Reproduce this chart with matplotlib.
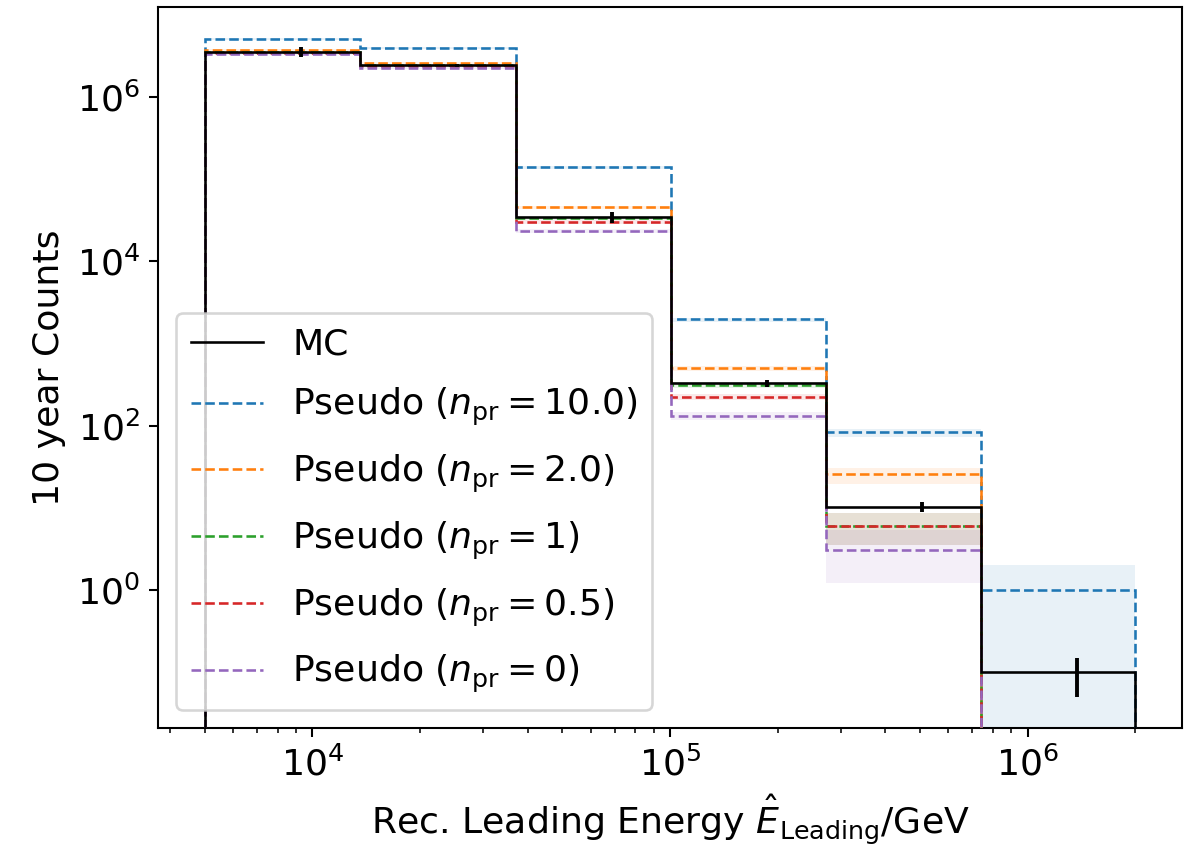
import numpy as np
import matplotlib
matplotlib.use('Agg')
import matplotlib.pyplot as plt
from matplotlib.ticker import NullLocator

# log-spaced energy bins, 5 TeV .. 2 PeV
edges = np.array([5.0e3, 1.36e4, 3.70e4, 1.006e5, 2.73e5, 7.42e5, 2.0e6])

mc = np.array([3.54e6, 2.44e6, 3.48e4, 327, 10.3, 0.1])
mc_err = np.array([5.0e5, 1.0e5, 5.5e3, 32, 1.5, 0.05])

labels = [r'Pseudo ($n_{\rm pr} = 10.0$)', r'Pseudo ($n_{\rm pr} = 2.0$)',
          r'Pseudo ($n_{\rm pr} = 1$)', r'Pseudo ($n_{\rm pr} = 0.5$)',
          r'Pseudo ($n_{\rm pr} = 0$)']
colors = ['C0', 'C1', 'C2', 'C3', 'C4']

pseudo_10 = [5.05e6, 3.89e6, 1.39e5, 1.96e3, 83, 1.0]
pseudo_2 = [3.71e6, 2.55e6, 4.53e4, 498, 25.8, 0]
pseudo_1 = [3.54e6, 2.44e6, 3.40e4, 311, 6.0, 0]
pseudo_05 = [3.41e6, 2.37e6, 3.02e4, 225, 6.0, 0]
pseudo_0 = [3.32e6, 2.24e6, 2.33e4, 132, 3.07, 0]

# uncertainty bands of the pseudo histograms
lo_10 = [4.9e6, 3.8e6, 1.34e5, 1.85e3, 72, 0]
hi_10 = [5.2e6, 4.0e6, 1.44e5, 2.07e3, 90, 2.0]
lo_2 = [3.6e6, 2.48e6, 4.3e4, 460, 19.5, 0]
hi_2 = [3.82e6, 2.62e6, 4.75e4, 535, 30.3, 0]
lo_1 = [3.44e6, 2.37e6, 3.2e4, 285, 3.5, 0]
hi_1 = [3.64e6, 2.51e6, 3.6e4, 337, 8.6, 0]
lo_05 = [3.31e6, 2.3e6, 2.85e4, 205, 3.5, 0]
hi_05 = [3.51e6, 2.44e6, 3.2e4, 245, 8.6, 0]
lo_0 = [3.22e6, 2.17e6, 2.18e4, 118, 1.23, 0]
hi_0 = [3.42e6, 2.31e6, 2.48e4, 146, 5.4, 0]

pseudo = [pseudo_10, pseudo_2, pseudo_1, pseudo_05, pseudo_0]
bands = [(lo_10, hi_10), (lo_2, hi_2), (lo_1, hi_1), (lo_05, hi_05), (lo_0, hi_0)]

y_ticks = [1e0, 1e2, 1e4, 1e6]

plt.rcParams['font.size'] = 14

dpi = 1194 / 6.4
fig = plt.figure(figsize=(6.4, 852 / dpi), dpi=dpi)
ax = fig.add_axes([158 / 1194, 1 - 728 / 852, (1182 - 158) / 1194, (728 - 7) / 852])

ax.stairs(mc, edges, color='k', label='MC', zorder=5)
for vals, (lo, hi), c, lab in zip(pseudo, bands, colors, labels):
    ax.stairs(vals, edges, color=c, ls='--', lw=1.0, label=lab, zorder=4)
    ax.stairs(hi, edges, baseline=lo, fill=True, color=c, alpha=0.1,
              ls='--', lw=1.0, zorder=2)

centers = 0.5 * (edges[1:] + edges[:-1])
ax.errorbar(centers, mc, yerr=mc_err, fmt='none', ecolor='k', zorder=6)

ax.set_xscale('log')
ax.set_yscale('log')
ax.set_xlim(3.7e3, 2.7e6)
ax.set_ylim(0.021, 1.24e7)
ax.set_yticks(y_ticks)
ax.yaxis.set_minor_locator(NullLocator())
ax.set_xlabel(r'Rec. Leading Energy $\hat{E}_{\rm Leading}$/GeV')
ax.set_ylabel('10 year Counts')
ax.legend(loc='lower left', labelspacing=0.68)

fig.savefig('out.png', dpi=dpi)
